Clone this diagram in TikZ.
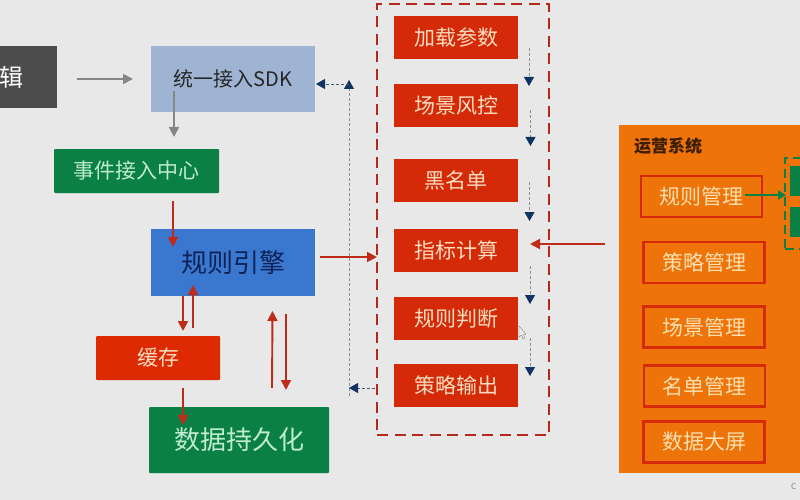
\documentclass[tikz,border=0pt]{standalone}
\usepackage{fontspec}
\setmainfont{Noto Sans CJK SC}
\usetikzlibrary{arrows.meta}
\definecolor{bgc}{HTML}{E8E8E9}
\definecolor{redbox}{HTML}{D42A08}
\definecolor{cachered}{HTML}{DE2A02}
\definecolor{darkred}{HTML}{B5281C}
\definecolor{arrowred}{HTML}{C02A18}
\definecolor{greenbox}{HTML}{0B8044}
\definecolor{greentxt}{HTML}{BFEBD0}
\definecolor{sdkblue}{HTML}{9FB4D3}
\definecolor{engblue}{HTML}{3A78CF}
\definecolor{navy}{HTML}{123263}
\definecolor{engtxt}{HTML}{0E2258}
\definecolor{orangebg}{HTML}{EE7308}
\definecolor{lighttxt}{HTML}{FBDDC0}
\definecolor{opstxt}{HTML}{FCE0B0}
\tikzset{
  x=1pt,y=-1pt,
  box/.style={inner sep=0pt,outer sep=0pt,align=center,anchor=center},
  stepbox/.style={box,fill=redbox,text=lighttxt,minimum width=124pt,minimum height=43pt,font=\fontsize{21}{21}\selectfont},
  opsbox/.style={box,draw=redbox,line width=2.4pt,text=opstxt,minimum width=121pt,minimum height=41pt,font=\fontsize{21}{21}\selectfont},
  greyarrow/.style={draw=gray!95,line width=1.7pt,-{Triangle[length=10pt,width=10pt]}},
  redarrow/.style={draw=arrowred,line width=1.9pt,-{Triangle[length=10pt,width=10pt]}},
  navyarrow/.style={draw=gray!90,line width=0.8pt,densely dashed,-{Triangle[length=9pt,width=10pt,color=navy]}},
  bluedash/.style={draw=gray!50!navy,line width=0.8pt,densely dashed,-{Triangle[length=9pt,width=10pt,color=navy]}}
}
\begin{document}
\begin{tikzpicture}
\useasboundingbox (0,0) rectangle (800,500);
\clip (0,0) rectangle (800,500);
\fill[bgc] (0,0) rectangle (800,500);
% left column
\node[box,fill=black!70,minimum width=74pt,minimum height=62pt] (edit) at (20,77) {};
\node[box,text=white,font=\fontsize{24}{24}\selectfont] (editlabel) at (11,77) {辑};
\node[box,fill=sdkblue,text=black!85,minimum width=164pt,minimum height=66pt,font=\fontsize{20}{20}\selectfont] (sdk) at (233,79) {统一接入SDK};
\node[box,fill=greenbox,text=greentxt,minimum width=165pt,minimum height=44pt,rounded corners=1pt,font=\fontsize{21}{21}\selectfont] (event) at (136.5,171) {事件接入中心};
\node[box,fill=engblue,text=engtxt,minimum width=164pt,minimum height=67pt,font=\fontsize{26}{26}\selectfont] (engine) at (233,262.5) {规则引擎};
\node[box,fill=cachered,text=lighttxt,minimum width=124pt,minimum height=44pt,rounded corners=1pt,font=\fontsize{21}{21}\selectfont] (cache) at (158,358) {缓存};
\node[box,fill=greenbox,text=greentxt,minimum width=180pt,minimum height=66pt,rounded corners=1pt,font=\fontsize{26}{26}\selectfont] (store) at (239,440) {数据持久化};
% dashed frame
\node[box,draw=darkred,line width=2.6pt,dash pattern=on 11pt off 6.5pt,minimum width=172pt,minimum height=431pt] (frame) at (463,219.5) {};
\node[stepbox] (s1) at (456,37.5) {加载参数};
\node[stepbox] (s2) at (456,105.5) {场景风控};
\node[stepbox] (s3) at (456,180.5) {黑名单};
\node[stepbox] (s4) at (456,250.5) {指标计算};
\node[stepbox] (s5) at (456,318.5) {规则判断};
\node[stepbox] (s6) at (456,385.5) {策略输出};
% operations panel
\node[box,fill=orangebg,minimum width=190pt,minimum height=348pt] (ops) at (714,299) {};
\node[box,text=black!75!orangebg,font=\bfseries\fontsize{17}{17}\selectfont,anchor=west] (opstitle) at (634,146) {运营系统};
\node[opsbox] (o1) at (701.5,196.5) {规则管理};
\node[opsbox] (o2) at (704,262.5) {策略管理};
\node[opsbox] (o3) at (704,327) {场景管理};
\node[opsbox] (o4) at (704.5,386) {名单管理};
\node[opsbox] (o5) at (704,442) {数据大屏};
\node[box,draw=greenbox,line width=2.6pt,dash pattern=on 9pt off 5pt,minimum width=40pt,minimum height=91pt] (gframe) at (805,203.5) {};
\node[box,fill=greenbox,minimum width=20pt,minimum height=30pt] (g1) at (800,181) {};
\node[box,fill=greenbox,minimum width=20pt,minimum height=30pt] (g2) at (800,222) {};
% free ends
\coordinate (a1) at (77,79); \coordinate (a2) at (133,79);
\coordinate (b1) at (174,91); \coordinate (b2) at (174,137);
\coordinate (c1) at (173,201); \coordinate (c2) at (173,247);
\coordinate (d1) at (183,296); \coordinate (d2) at (183,331);
\coordinate (e1) at (193,328); \coordinate (e2) at (193,285);
\coordinate (f1) at (272,388); \coordinate (f2) at (272.5,311);
\coordinate (g3) at (286,314); \coordinate (g4) at (286,390);
\coordinate (h1) at (183,388); \coordinate (h2) at (183,425);
\coordinate (i1) at (320,257); \coordinate (i2) at (377,257);
\coordinate (j1) at (605,244); \coordinate (j2) at (530,244);
\coordinate (k1) at (745,195); \coordinate (k2) at (786,195);
\coordinate (l1) at (349,396); \coordinate (l2) at (349,80);
\coordinate (m1) at (349,84); \coordinate (m2) at (316,84);
\coordinate (n1) at (375,388); \coordinate (n2) at (349,388);
\coordinate (p1) at (529,48); \coordinate (p2) at (529,86);
\coordinate (q1) at (530.5,110); \coordinate (q2) at (530.5,146);
\coordinate (r1) at (529.5,182); \coordinate (r2) at (529.5,221);
\coordinate (t1) at (530,266); \coordinate (t2) at (530,304);
\coordinate (u1) at (530,338); \coordinate (u2) at (530,376);
\draw[greyarrow] (a1) -- (a2);
\draw[greyarrow] (b1) -- (b2);
\draw[redarrow] (c1) -- (c2);
\draw[redarrow] (d1) -- (d2);
\draw[redarrow] (e1) -- (e2);
\draw[redarrow] (f1) -- (f2);
\draw[redarrow] (g3) -- (g4);
\draw[redarrow] (h1) -- (h2);
\draw[redarrow] (i1) -- (i2);
\draw[redarrow] (j1) -- (j2);
\draw[draw=greenbox,line width=1.9pt,-{Triangle[length=8pt,width=9pt]}] (k1) -- (k2);
\draw[navyarrow] (l1) -- (l2);
\draw[bluedash] (m1) -- (m2);
\draw[bluedash] (n1) -- (n2);
\draw[navyarrow] (p1) -- (p2);
\draw[navyarrow] (q1) -- (q2);
\draw[navyarrow] (r1) -- (r2);
\draw[navyarrow] (t1) -- (t2);
\draw[navyarrow] (u1) -- (u2);
% pointer
\draw[gray,fill=white!85!gray,line width=0.4pt] (519,326) -- (519,337) -- (521.5,335) -- (523,339) -- (525,338) -- (523.5,334.5) -- (526,334) -- cycle;
\node[box,text=gray,font=\fontsize{8}{8}\selectfont,anchor=west] (mark) at (791,487) {C};
\end{tikzpicture}
\end{document}
